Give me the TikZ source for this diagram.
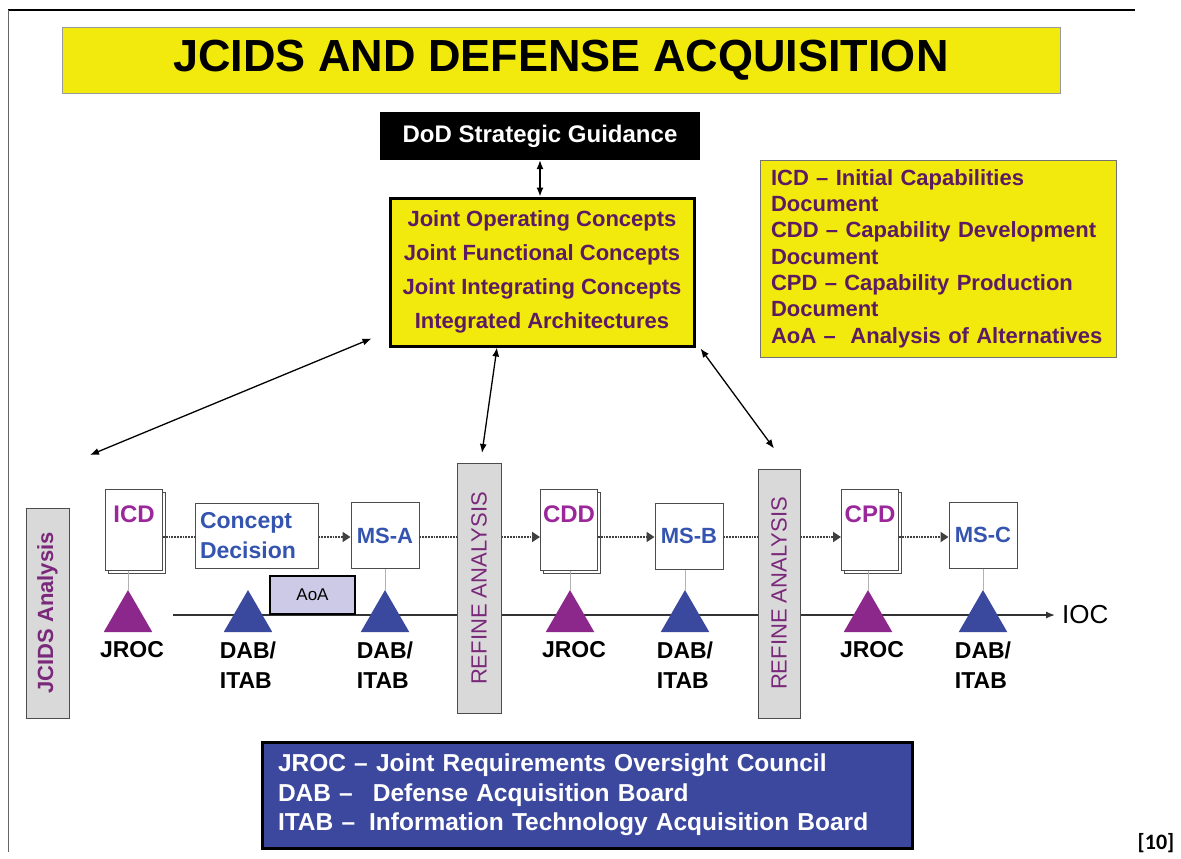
\documentclass[tikz,border=0pt]{standalone}
\usepackage{graphicx}
\usepackage{fontspec}
\setmainfont{Liberation Sans}
\newfontfamily\notefont{Carlito}
\usetikzlibrary{positioning,arrows.meta,shapes.geometric,shadows}

\definecolor{slideyellow}{RGB}{242,234,12}
\definecolor{darkplum}{RGB}{92,26,98}
\definecolor{refineplum}{RGB}{122,40,122}
\definecolor{plum}{RGB}{140,40,140}
\definecolor{docplum}{RGB}{155,40,155}
\definecolor{boardblue}{RGB}{58,72,158}
\definecolor{msblue}{RGB}{52,84,176}
\definecolor{panelgray}{RGB}{217,217,217}
\definecolor{aoafill}{RGB}{204,202,230}
\definecolor{councilblue}{RGB}{60,72,158}

\newcommand{\setfs}[2]{\fontsize{#1}{#2}\selectfont}

\tikzset{
  panel/.style={draw=black!55, fill=slideyellow, line width=1pt},
  docpage/.style={draw=black!70, fill=white, line width=1pt, minimum width=57pt, minimum height=81pt,
    inner xsep=0pt, inner ysep=8pt, text height=25pt, text depth=40pt, text=docplum,
    font=\setfs{24}{24}\bfseries,
    copy shadow={shadow xshift=3pt, shadow yshift=-3pt, draw=black!70, fill=white}},
  msbox/.style={draw=black!70, fill=white, line width=1pt, minimum width=68pt, minimum height=66pt,
    inner sep=0pt, text=msblue, font=\setfs{22}{22}\bfseries},
  refinebox/.style={draw=black!70, fill=panelgray, line width=1pt, minimum width=44pt,
    minimum height=250pt, inner sep=0pt, text=refineplum, font=\setfs{22}{22}},
  jroctri/.style={regular polygon, regular polygon sides=3, fill=plum, minimum size=56pt, inner sep=0pt},
  dabtri/.style={jroctri, fill=boardblue},
  milestone/.style={font=\setfs{23}{30}\bfseries, align=left, inner sep=0pt},
  flow/.style={densely dotted, line width=1.8pt, draw=black!75},
  flowto/.style={flow, -{Triangle[length=8pt,width=10pt]}},
  stem/.style={draw=black!30, line width=1pt},
  link/.style={line width=1.3pt, {Latex[length=9pt,width=7pt]}-{Latex[length=9pt,width=7pt]}},
}

\begin{document}
\begin{tikzpicture}[x=1pt,y=-1pt]
  \useasboundingbox (0,0) rectangle (1181,859);

  % slide frame
  \draw[line width=2pt] (8,10) -- (1135,10);
  \draw[black!60, line width=1pt] (8,10) -- (8,852);

  % heading and guidance
  \node[panel, draw=black!40, minimum width=998pt, minimum height=65pt, font=\setfs{45}{45}\bfseries] (title) at (561,60.5) {JCIDS AND DEFENSE ACQUISITION};
  \node[fill=black, minimum width=320pt, minimum height=48pt, text=white, font=\setfs{24}{24}\bfseries] (dod) at (540,136) {DoD Strategic Guidance};
  \node[panel, draw=black, line width=3pt, minimum width=304pt, minimum height=148pt, align=center, text=darkplum, font=\setfs{22}{34}\bfseries] (concepts) at (542,272)
    {Joint Operating Concepts\\Joint Functional Concepts\\Joint Integrating Concepts\\Integrated Architectures};
  \node[panel, minimum width=356pt, minimum height=197pt, text width=334pt, align=left, text=darkplum, font=\setfs{22}{26.3}\bfseries] (legend) at (938,258.5)
    {ICD -- Initial Capabilities\\Document\\CDD -- Capability Development\\Document\\CPD -- Capability Production\\Document\\AoA --\ \ Analysis of Alternatives};

  \draw[link] (dod.south) -- (dod.south |- concepts.north);

  % analysis boxes
  \node[refinebox, minimum width=43pt, minimum height=210pt, font=\setfs{22}{22}\bfseries] (jcids) at (47.5,613) {\rotatebox{90}{JCIDS Analysis}};

  % timeline
  \coordinate (tlstart) at (173,615);
  \node[anchor=west, inner xsep=7pt, inner ysep=0pt, font=\setfs{26}{26}] (ioc) at (1055,615) {IOC};
  \draw[line width=1.3pt, draw=black!80, -{Latex[length=9pt,width=7pt]}] (tlstart) -- (ioc.west);

  \node[refinebox] (refineA) at (479,588.5) {\rotatebox{90}{REFINE ANALYSIS}};
  \node[refinebox, minimum width=42pt, minimum height=249pt] (refineB) at (779,593.5) {\rotatebox{90}{REFINE ANALYSIS}};

  % documents and milestones
  \node[docpage] (icd) at (134,529.5) {ICD};
  \node[draw=black!70, fill=white, line width=1pt, minimum width=123pt, minimum height=65pt, text width=113pt, align=left, inner xsep=0pt, text=msblue, font=\setfs{23}{30}\bfseries] (cd) at (256.5,535.5) {Concept\\Decision};
  \node[msbox] (msA) at (385,535.5) {MS-A};
  \node[docpage] (cdd) at (569,530) {CDD};
  \node[msbox] (msB) at (689,536) {MS-B};
  \node[docpage] (cpd) at (870,529.5) {CPD};
  \node[msbox] (msC) at (983,535) {MS-C};

  \node[draw=black, line width=2pt, fill=aoafill, minimum width=85pt, minimum height=38pt, font=\setfs{17}{17}] (aoa) at (312.5,595) {AoA};

  % review boards
  \node[jroctri] (jrocA) at (128,618) {};
  \node[dabtri] (dabA) at (248,618) {};
  \node[dabtri] (dabB) at (385,618) {};
  \node[jroctri] (jrocB) at (570,618) {};
  \node[dabtri] (dabC) at (685,618) {};
  \node[jroctri] (jrocC) at (868,618) {};
  \node[dabtri] (dabD) at (983,618) {};

  \draw[stem] (jrocA.north |- icd.south) -- (jrocA.north);
  \draw[stem] (dabB.north |- msA.south) -- (dabB.north);
  \draw[stem] (jrocB.north |- cdd.south) -- (jrocB.north);
  \draw[stem] (dabC.north |- msB.south) -- (dabC.north);
  \draw[stem] (jrocC.north |- cpd.south) -- (jrocC.north);
  \draw[stem] (dabD.north |- msC.south) -- (dabD.north);

  \node[milestone, below=9pt of jrocA.side 2, xshift=4pt] (jrocAlbl) {JROC};
  \node[milestone, below=9pt of dabA.side 2] (dabAlbl) {DAB/\\ITAB};
  \node[milestone, below=9pt of dabB.side 2] (dabBlbl) {DAB/\\ITAB};
  \node[milestone, below=9pt of jrocB.side 2, xshift=4pt] (jrocBlbl) {JROC};
  \node[milestone, below=9pt of dabC.side 2] (dabClbl) {DAB/\\ITAB};
  \node[milestone, below=9pt of jrocC.side 2, xshift=4pt] (jrocClbl) {JROC};
  \node[milestone, below=9pt of dabD.side 2] (dabDlbl) {DAB/\\ITAB};

  % process flow
  \coordinate (flowy) at (0,537);
  \draw[flow] (icd.east |- flowy) -- (cd.west |- flowy);
  \draw[flowto] (cd.east |- flowy) -- (msA.west |- flowy);
  \draw[flow] (msA.east |- flowy) -- (refineA.west |- flowy);
  \draw[flowto] (refineA.east |- flowy) -- (cdd.west |- flowy);
  \draw[flowto] (cdd.east |- flowy) -- (msB.west |- flowy);
  \draw[flow] (msB.east |- flowy) -- (refineB.west |- flowy);
  \draw[flowto] (refineB.east |- flowy) -- (cpd.west |- flowy);
  \draw[flowto] (cpd.east |- flowy) -- (msC.west |- flowy);

  % concept links
  \coordinate (jcidsend) at (90,455);
  \draw[link] ([shift={(-17,-9)}]concepts.south west) -- (jcidsend);
  \draw[link] ([xshift=-45pt]concepts.south) -- ([shift={(3,-10)}]refineA.north);
  \draw[link] ([shift={(5,1)}]concepts.south east) -- ([shift={(-5,-20)}]refineB.north);

  % board names
  \node[draw=black, line width=3pt, fill=councilblue, minimum width=650pt, minimum height=106pt, text width=618pt, align=left, text=white, font=\setfs{24.5}{29.5}\bfseries] (boards) at (587,795)
    {JROC -- Joint Requirements Oversight Council\\DAB --\hspace{20pt}Defense Acquisition Board\\ITAB --\hspace{14pt}Information Technology Acquisition Board};

  \node[inner sep=0pt, font=\notefont\setfs{22}{22}\bfseries] (cite) at (1156,843) {[10]};
\end{tikzpicture}
\end{document}
